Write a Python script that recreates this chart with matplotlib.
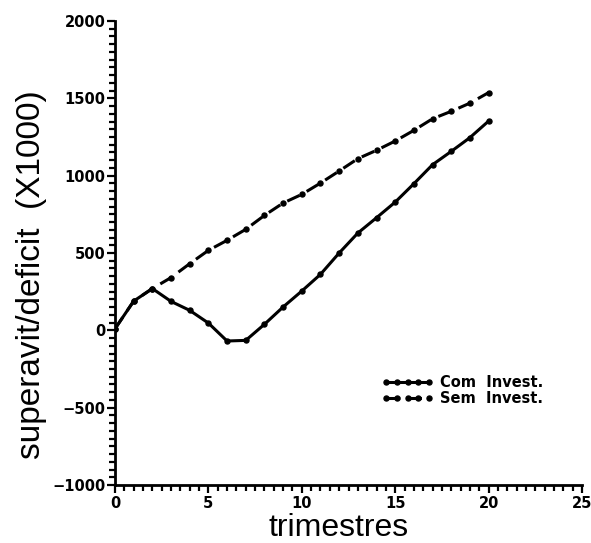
import matplotlib
matplotlib.use("Agg")
import matplotlib.pyplot as plt
from matplotlib.ticker import MultipleLocator

# data (superavit/deficit x1000 per trimestre)
trimestres = list(range(0, 21))
com_invest = [10, 189, 270, 187, 129, 47, -69, -65, 39, 151, 254, 362, 500,
              629, 728, 829, 948, 1071, 1157, 1246, 1353]
sem_invest = [10, 189, 270, 341, 431, 517, 582, 653, 743, 823, 879, 952, 1030,
              1110, 1164, 1224, 1293, 1368, 1416, 1469, 1537]

labels = ["Com  Invest.", "Sem  Invest."]
xlabel = "trimestres"
ylabel = "superavit/deficit  (X1000)"

W, H = 591, 543
fig = plt.figure(figsize=(W / 100, H / 100), dpi=100)
ax = fig.add_axes([115 / W, 1 - 485 / H, (582 - 115) / W, (485 - 21) / H])

ax.plot(trimestres, sem_invest, color="black", lw=2.2, linestyle=(0, (4.5, 2.6)),
        marker="o", markersize=3.6, label=labels[1], zorder=2)
ax.plot(trimestres, com_invest, color="black", lw=2.2, linestyle="-",
        marker="o", markersize=3.6, label=labels[0], zorder=3)

ax.set_xlim(0, 25)
ax.set_ylim(-1000, 2000)
ax.xaxis.set_major_locator(MultipleLocator(5))
ax.xaxis.set_minor_locator(MultipleLocator(0.5))
ax.yaxis.set_major_locator(MultipleLocator(500))
ax.yaxis.set_minor_locator(MultipleLocator(50))

for s in ("top", "right"):
    ax.spines[s].set_visible(False)
for s in ("left", "bottom"):
    ax.spines[s].set_linewidth(2.0)

ax.tick_params(which="both", direction="out", width=1.6, color="black")
ax.tick_params(which="major", length=5.5)
ax.tick_params(which="minor", length=4.5)
ax.tick_params(axis="y", which="major", pad=1.5)
ax.tick_params(axis="x", which="major", pad=2.5)
for lab in ax.get_xticklabels() + ax.get_yticklabels():
    lab.set_fontfamily("DejaVu Sans")
    lab.set_fontweight("bold")
    lab.set_fontsize(10.5)

fig.text(339 / W, 1 - 536 / H, xlabel, ha="center", va="baseline",
         fontsize=23, family="Liberation Sans")
fig.text(32 / W, 1 - 275 / H, ylabel, ha="center", va="center", rotation=90,
         fontsize=24, family="Liberation Sans")

h, l = ax.get_legend_handles_labels()
leg = ax.legend(h[::-1], l[::-1], loc="center left",
                bbox_to_anchor=(382 / W, 1 - 390.5 / H),
                bbox_transform=fig.transFigure, frameon=False,
                numpoints=5, handlelength=3.5, handletextpad=0.5,
                borderpad=0, borderaxespad=0, labelspacing=0.05,
                prop={"family": "DejaVu Sans", "weight": "bold", "size": 10.5})

fig.savefig("out.png", dpi=100)
